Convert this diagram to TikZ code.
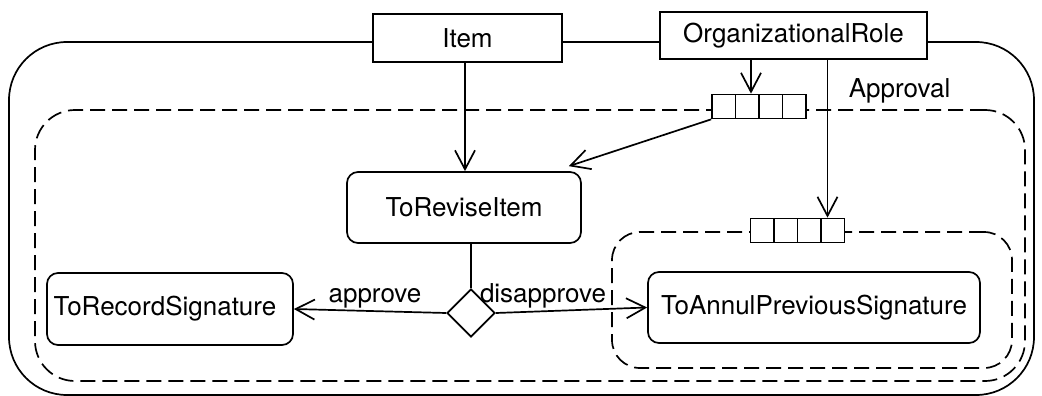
\documentclass[tikz,border=0pt]{standalone}
\usepackage{fontspec}
\setmainfont{TeX Gyre Heros}
\usetikzlibrary{arrows.meta,shapes.geometric,calc}

\begin{document}
\begin{tikzpicture}[x=1pt,y=-1pt,
  line width=1.7pt,
  every node/.style={font=\fontsize{26}{31}\selectfont, inner sep=0pt},
  classbox/.style={draw, fill=white, rectangle},
  actbox/.style={draw, fill=white, rounded corners=11pt},
  region/.style={draw, rounded corners=#1},
  dashedregion/.style={draw, dash pattern=on 15pt off 7pt, rounded corners=#1},
  decision/.style={draw, fill=white, diamond, aspect=1, minimum width=48pt, minimum height=48pt},
  pinbox/.style={draw, fill=white, minimum width=94pt, minimum height=24pt,
    path picture={
      \foreach \k in {1,2,3}
        \draw ($(path picture bounding box.south west)!\k/4!(path picture bounding box.south east)$)
           -- ($(path picture bounding box.north west)!\k/4!(path picture bounding box.north east)$);}},
  flow/.style={-{Straight Barb[length=19pt,width=20pt]}},
]
\useasboundingbox (0,0) rectangle (1042,396);

% enclosing frame and the two interruptible regions
\node[region=58pt, minimum width=1025pt, minimum height=353pt] (frame) at (521.5,218.5) {};
\node[dashedregion=40pt, minimum width=990pt, minimum height=271pt] (approval) at (530,245.5) {};
\node[dashedregion=28pt, minimum width=400pt, minimum height=136pt] (annulregion) at (812,300) {};
\node[anchor=base west] (approvallabel) at (848,97) {Approval};

% classes on the frame border
\node[classbox, minimum width=189pt, minimum height=48pt] (item) at (467.5,38) {Item};
\node[classbox, minimum width=267pt, minimum height=47pt] (role) at (793.5,35.5) {OrganizationalRole};

% pins
\node[pinbox] (pin1) at (759,106.5) {};
\node[pinbox] (pin2) at (797.5,230.5) {};

% actions
\node[actbox, minimum width=234pt, minimum height=71pt] (revise) at (464,207.5) {ToReviseItem};
\node[actbox, minimum width=246pt, minimum height=72pt] (record) at (170,309) {\hspace*{-10pt}ToRecordSignature};
\node[actbox, minimum width=332pt, minimum height=71pt] (annul) at (814,307.5) {ToAnnulPreviousSignature};
\node[decision] (dec) at (471,313) {};

% flows
\draw[flow] (item.south -| 465,0) -- (465,0 |- revise.north);
\draw[flow] ([xshift=-8pt]pin1.north |- role.south) -- ([xshift=-8pt]pin1.north);
\draw[flow] (pin1.south west) -- ([xshift=-13pt,yshift=5pt]revise.north east);
\draw[flow] ([xshift=30pt]pin2.north |- role.south) -- ([xshift=30pt]pin2.north);
\draw (dec.north |- revise.south) -- (dec.north);
\draw[flow] (dec.west) -- (record.east);
\draw[flow] (dec.east) -- (annul.west);
\node[anchor=base] (approvetext) at (375,302) {approve};
\node[anchor=base] (disapprovetext) at (543,302) {disapprove};
\end{tikzpicture}
\end{document}
